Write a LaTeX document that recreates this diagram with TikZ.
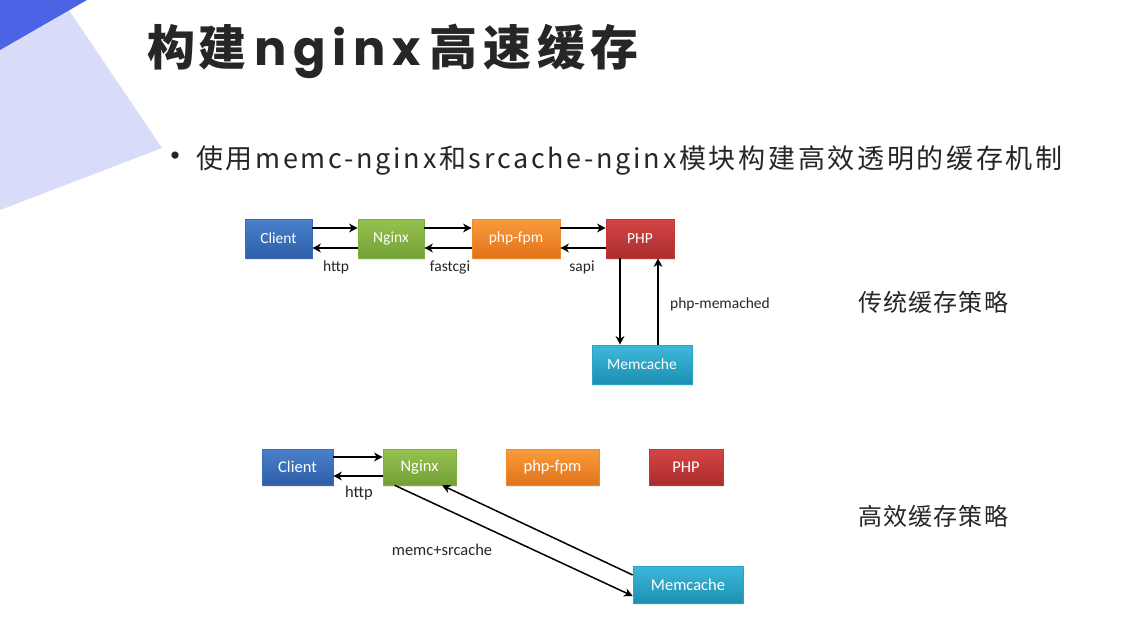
\documentclass[tikz,border=0pt]{standalone}
\usepackage{fontspec}
\usetikzlibrary{arrows.meta,shadows}
\newfontfamily\cjk{Noto Sans CJK SC}
\newfontfamily\pop{Poppins}
\newfontfamily\carl{Carlito}
\definecolor{darkblue}{HTML}{4B63E5}
\definecolor{lightblue}{HTML}{D9DCF8}
\definecolor{txt}{HTML}{262626}
\definecolor{blueT}{HTML}{4A80CC}\definecolor{blueB}{HTML}{2E5FA8}\definecolor{blueD}{HTML}{3A6BB3}
\definecolor{greenT}{HTML}{96C24E}\definecolor{greenB}{HTML}{73A037}\definecolor{greenD}{HTML}{82AE40}
\definecolor{orangeT}{HTML}{F99B3C}\definecolor{orangeB}{HTML}{E2731A}\definecolor{orangeD}{HTML}{EE8A2C}
\definecolor{redT}{HTML}{D44545}\definecolor{redB}{HTML}{AC2D2D}\definecolor{redD}{HTML}{BF3838}
\definecolor{cyanT}{HTML}{3EB8DA}\definecolor{cyanB}{HTML}{1C90B2}\definecolor{cyanD}{HTML}{2BA3C8}
\tikzset{
  box/.style={rectangle, inner sep=0pt, text=white, line width=0.6pt,
    drop shadow={opacity=0.18, shadow xshift=0.8pt, shadow yshift=-1.6pt}},
  topfont/.style={font=\carl\fontsize{15.5}{18}\selectfont},
  botfont/.style={font=\carl\fontsize{16.5}{19}\selectfont},
  bluebox/.style={box, top color=blueT, bottom color=blueB, draw=blueD},
  greenbox/.style={box, top color=greenT, bottom color=greenB, draw=greenD},
  orangebox/.style={box, top color=orangeT, bottom color=orangeB, draw=orangeD},
  redbox/.style={box, top color=redT, bottom color=redB, draw=redD},
  cyanbox/.style={box, top color=cyanT, bottom color=cyanB, draw=cyanD},
  arr/.style={-{Stealth[length=8.5pt,width=8.5pt,inset=2.5pt]}, line width=1.5pt, black},
  lbl/.style={anchor=base, inner sep=0pt, text=txt},
}
\begin{document}
\begin{tikzpicture}[x=1pt,y=-1pt]
\useasboundingbox (0,0) rectangle (1123,642);
\fill[white] (0,0) rectangle (1123,642);
% background decoration
\fill[lightblue] (0,0) -- (62,0) -- (162,148) -- (0,210) -- cycle;
\fill[darkblue] (0,0) -- (87,0) -- (0,50) -- cycle;
% title
\node[anchor=base west, inner sep=0pt, text=txt] (title) at (147,66)
  {\fontsize{48}{58}\selectfont{\cjk\bfseries\addfontfeature{LetterSpace=8}构建}\hspace{7pt}{\pop\bfseries\addfontfeature{LetterSpace=14}nginx}\hspace{9pt}{\cjk\bfseries\addfontfeature{LetterSpace=12}高速缓存}};
% subtitle
\node[anchor=base west, inner sep=0pt, text=txt] (sub) at (158,168)
  {\cjk\fontsize{27}{32}\selectfont{\fontsize{34}{34}\selectfont•}\hspace{4pt}\addfontfeature{LetterSpace=10}使用memc-nginx和srcache-nginx模块构建高效透明的缓存机制};
% right labels
\node[anchor=base west, inner sep=0pt, text=txt] (lab1) at (858,311)
  {\cjk\fontsize{24}{28}\selectfont\addfontfeature{LetterSpace=5}传统缓存策略};
\node[anchor=base west, inner sep=0pt, text=txt] (lab2) at (858,525)
  {\cjk\fontsize{24}{28}\selectfont\addfontfeature{LetterSpace=5}高效缓存策略};

% ---- traditional diagram ----
\node[bluebox, topfont, minimum width=67pt, minimum height=39pt] (c1) at (278.5,238.5) {Client};
\node[greenbox, topfont, minimum width=66pt, minimum height=39pt] (n1) at (391,238.5) {Nginx};
\node[orangebox, topfont, minimum width=88pt, minimum height=39pt] (f1) at (516,238.5) {php-fpm};
\node[redbox, topfont, minimum width=68pt, minimum height=39pt] (p1) at (640,238.5) {PHP};
\node[cyanbox, topfont, minimum width=100pt, minimum height=39pt] (m1) at (642,364.5) {Memcache};

\draw[arr] ([yshift=10.5pt]c1.east) -- ([yshift=10.5pt]n1.west);
\draw[arr] ([yshift=-9.5pt]n1.west) -- ([yshift=-9.5pt]c1.east);
\draw[arr] ([yshift=10.5pt]n1.east) -- ([yshift=10.5pt]f1.west);
\draw[arr] ([yshift=-9.5pt]f1.west) -- ([yshift=-9.5pt]n1.east);
\draw[arr] ([yshift=10.5pt]f1.east) -- ([yshift=10.5pt]p1.west);
\draw[arr] ([yshift=-9.5pt]p1.west) -- ([yshift=-9.5pt]f1.east);
\draw[arr] ([xshift=-20pt]p1.south) -- ([xshift=-20pt]p1.south |- m1.north);
\draw[arr] ([xshift=18pt]p1.south |- m1.north) -- ([xshift=18pt]p1.south);

\node[lbl, topfont] (h1) at (336,271) {http};
\node[lbl, topfont] (fc) at (450,271) {fastcgi};
\node[lbl, topfont] (sa) at (582,271) {sapi};
\node[lbl, topfont, anchor=base west] (pm) at (670,308) {php-memached};

% ---- efficient diagram ----
\node[bluebox, botfont, minimum width=71pt, minimum height=36pt] (c2) at (297.5,467) {Client};
\node[greenbox, botfont, minimum width=73pt, minimum height=36pt] (n2) at (419.5,467) {Nginx};
\node[orangebox, botfont, minimum width=93pt, minimum height=36pt] (f2) at (552.5,467) {php-fpm};
\node[redbox, botfont, minimum width=74pt, minimum height=36pt] (p2) at (686,467) {PHP};
\node[cyanbox, botfont, minimum width=110pt, minimum height=37pt] (m2) at (688,584.5) {Memcache};

\draw[arr] ([yshift=10pt]c2.east) -- ([yshift=10pt]n2.west);
\draw[arr] ([yshift=-9pt]n2.west) -- ([yshift=-9pt]c2.east);
\draw[arr] ([xshift=12pt]n2.south west) -- ([yshift=-11.5pt]m2.west);
\draw[arr] ([yshift=9.5pt]m2.west) -- ([xshift=22.5pt]n2.south);

\node[lbl, botfont] (h2) at (359,497) {http};
\node[lbl, botfont] (ms) at (442,555) {memc+srcache};
\end{tikzpicture}
\end{document}
